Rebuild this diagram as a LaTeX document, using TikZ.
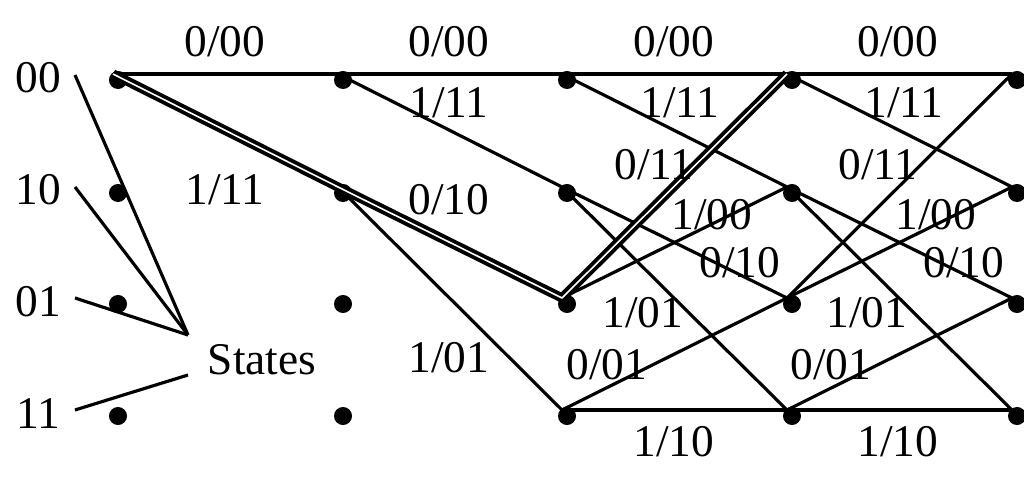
\documentclass[tikz,border=0pt]{standalone}
\usepackage{fontspec}
\setmainfont{Liberation Serif}
\usetikzlibrary{positioning}
\begin{document}
\begin{tikzpicture}[
    x=0.01cm, y=-0.01cm,
    dot/.style={circle, fill, inner sep=0pt, minimum size=0.18cm},
    edge/.style={line width=0.9pt},
    survivor/.style={double, double distance=0.45pt, line width=1.1pt, line join=round},
    lbl/.style={font=\fontsize{12.9}{15}\selectfont, inner sep=0pt}
]
\useasboundingbox (0,0) rectangle (1024,488);

% Trellis grid
\foreach \x [count=\i from 0] in {118,343,567,792,1017}
  \foreach \y [count=\j from 0] in {80,193,304,416} {
    \node[dot] (d\i\j) at (\x,\y) {};
    \coordinate (p\i\j) at (\x-5,\y-6);
  }

% State names
\node[lbl] (s00) at (38,78) {00};
\node[lbl] (s10) at (38,190) {10};
\node[lbl] (s01) at (38,302) {01};
\node[lbl] (s11) at (38,414) {11};
\node[lbl] (states) at (262,360) {States};

% Pointers to the state names
\coordinate (q00) at (75,75);
\coordinate (q10) at (75,187);
\coordinate (q01) at (75,298);
\coordinate (q11) at (75,410);
\coordinate (tipa) at (188,335);
\coordinate (tipb) at (188,375);
\draw[edge] (q00) -- (tipa);
\draw[edge] (q10) -- (tipa);
\draw[edge] (q01) -- (tipa);
\draw[edge] (q11) -- (tipb);

% Branches
\draw[edge] (p00) -- (p10) -- (p20) -- (p30) -- (p40);
\draw[edge] (p23) -- (p33) -- (p43);
\draw[edge] (p10) -- (p21);
\draw[edge] (p11) -- (p23);
\foreach \a/\b in {2/3,3/4} {
  \draw[edge] (p\a0) -- (p\b1);
  \draw[edge] (p\a1) -- (p\b2);
  \draw[edge] (p\a1) -- (p\b3);
  \draw[edge] (p\a2) -- (p\b1);
  \draw[edge] (p\a3) -- (p\b2);
}
\draw[edge] (p32) -- (p40);

% Survivor path
\draw[survivor] (p00) -- (p11) -- (p22) -- (p30);

% Branch labels
\node[lbl] (a000) at (225,42) {0/00};
\node[lbl] (a100) at (449,42) {0/00};
\node[lbl] (a200) at (674,42) {0/00};
\node[lbl] (a300) at (898,42) {0/00};
\node[lbl] (a011) at (225,190) {1/11};
\node[lbl] (a111) at (449,103) {1/11};
\node[lbl] (a211) at (680,103) {1/11};
\node[lbl] (a311) at (904,103) {1/11};
\node[lbl] (a110) at (449,200) {0/10};
\node[lbl] (a210) at (740,263) {0/10};
\node[lbl] (a310) at (964,263) {0/10};
\node[lbl] (a101) at (449,358) {1/01};
\node[lbl] (a201) at (643,313) {1/01};
\node[lbl] (a301) at (867,313) {1/01};
\node[lbl] (b211) at (654,165) {0/11};
\node[lbl] (b311) at (878,165) {0/11};
\node[lbl] (b200) at (712,215) {1/00};
\node[lbl] (b300) at (936,215) {1/00};
\node[lbl] (b201) at (607,365) {0/01};
\node[lbl] (b301) at (831,365) {0/01};
\node[lbl] (b210) at (674,442) {1/10};
\node[lbl] (b310) at (898,442) {1/10};

\end{tikzpicture}
\end{document}
